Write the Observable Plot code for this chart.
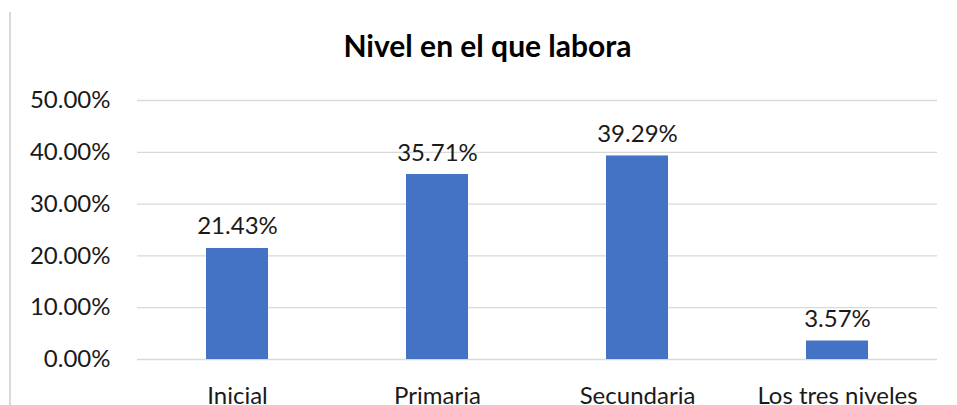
<!DOCTYPE html>
<html>
<head>
<meta charset="utf-8">
<script src="https://cdn.jsdelivr.net/npm/d3@7"></script>
<script src="https://cdn.jsdelivr.net/npm/@observablehq/plot@0.6"></script>
<style>
  html, body { margin: 0; padding: 0; background: #fff; }
  #wrap { position: relative; width: 957px; height: 405px; overflow: hidden; font-family: Lato, sans-serif; }
  #border { position: absolute; left: 9px; top: 12px; width: 1.5px; height: 400px; background: #d9d9d9; }
  #title { position: absolute; left: 18px; top: 30px; width: 939px; text-align: center; font-size: 30px; line-height: 30px; font-weight: bold; color: #000; }
  #chart { position: absolute; left: 0; top: 75px; }
</style>
</head>
<body>
<div id="wrap">
  <div id="border"></div>
  <div id="title">Nivel en el que labora</div>
  <div id="chart"></div>
</div>
<script>
const categories = ["Inicial", "Primaria", "Secundaria", "Los tres niveles"];
const values = [0.2143, 0.3571, 0.3929, 0.0357];
const yTicks = [0, 0.1, 0.2, 0.3, 0.4, 0.5];

const data = categories.map((c, i) => ({category: c, value: values[i]}));
const pct = d3.format(".2%");

const plot = Plot.plot({
  width: 957,
  height: 330,
  marginTop: 25,
  marginBottom: 46,
  marginLeft: 137,
  marginRight: 20,
  style: {fontFamily: "Lato, sans-serif", fontSize: "24px", color: "#1a1a1a", background: "transparent"},
  x: {domain: categories, paddingInner: 0.69, paddingOuter: 0.345, label: null},
  y: {domain: [0, 0.5], label: null},
  marks: [
    Plot.ruleY(yTicks, {stroke: "#d9d9d9", strokeWidth: 1.3}),
    Plot.axisY(yTicks, {tickFormat: pct, tickSize: 0, tickPadding: 27, label: null, fontSize: 24}),
    Plot.axisX({tickSize: 0, tickPadding: 27, label: null, fontSize: 24}),
    Plot.barY(data, {x: "category", y: "value", fill: "#4472c4"}),
    Plot.text(data, {x: "category", y: "value", text: d => pct(d.value), lineAnchor: "bottom", dy: -14, fontSize: 24, fill: "#1a1a1a"})
  ]
});
document.getElementById("chart").appendChild(plot);
</script>
</body>
</html>
